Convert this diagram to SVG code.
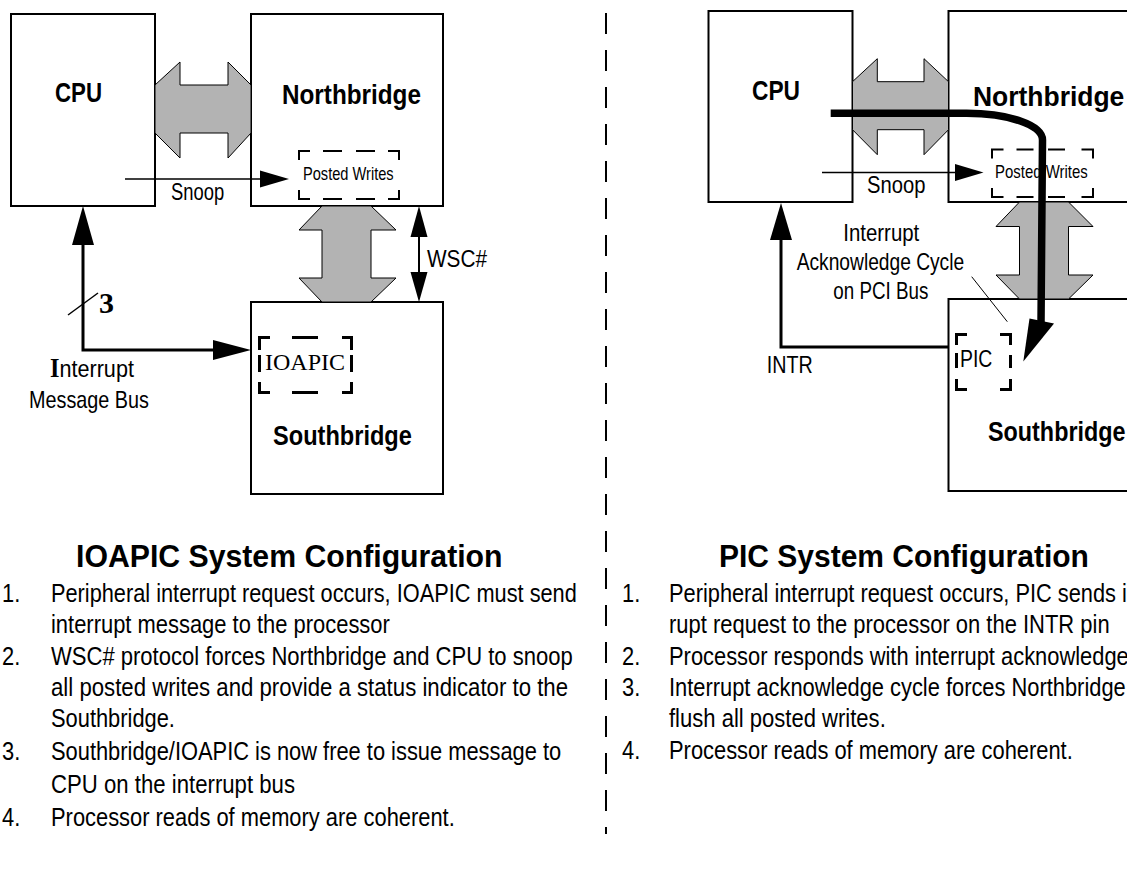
<svg xmlns="http://www.w3.org/2000/svg" width="1127" height="889" viewBox="0 0 1127 889">
<style>
.box{fill:#fff;stroke:#000;stroke-width:2}
.bus{fill:#b3b3b3;stroke:#000;stroke-width:1;stroke-linejoin:miter}
.wire{fill:none;stroke:#000;stroke-width:3}
.thin{fill:none;stroke:#000;stroke-width:1.5}
.hair{fill:none;stroke:#000;stroke-width:1}
.d2{fill:none;stroke:#000;stroke-width:2}
.d3{fill:none;stroke:#000;stroke-width:3}
.head{fill:#000;stroke:none}
.fat{fill:none;stroke:#000;stroke-width:7.5}
text{font-family:'Liberation Sans',Arial,sans-serif;fill:#000}
.t{font-size:24px}
.s{font-size:18px}
.body{font-size:26.5px}
.title{font-size:27px;font-weight:bold}
.head1{font-size:31.5px;font-weight:bold}
.serif{font-family:'Liberation Serif','Times New Roman',serif}
</style>
<rect width="1127" height="889" fill="#fff"/>

<g id="divider">
<line x1="606" y1="13" x2="606" y2="834" stroke="#000" stroke-width="2" stroke-dasharray="21 16"/>
</g>

<!-- LEFT: IOAPIC configuration -->
<g id="left-cpu">
<rect class="box" x="11" y="14" width="144" height="192"/>
<text class="title" transform="translate(55,102) scale(0.825,1)">CPU</text>
</g>
<g id="left-northbridge">
<rect class="box" x="251" y="14" width="192" height="192"/>
<text class="title" transform="translate(282,104) scale(0.9,1)">Northbridge</text>
<path class="d2" d="M299,160 V151 H310 M323,151 H342 M356,151 H375 M388,151 H399 V160 M299,190 V199 H310 M323,199 H342 M356,199 H375 M388,199 H399 V190"/>
<text class="s" transform="translate(303,180) scale(0.8125,1)">Posted Writes</text>
</g>
<g id="left-southbridge">
<rect class="box" x="251" y="302" width="192" height="192"/>
<text class="title" transform="translate(273,445) scale(0.874,1)">Southbridge</text>
<path class="d3" d="M259.5,350 V337.5 H270 M292,337.5 H318 M342,337.5 H351.5 V350 M259.5,355 V372 M351.5,355 V372 M259.5,382 V392.5 H270 M292,392.5 H318 M342,392.5 H351.5 V382"/>
<text class="serif" x="265" y="370" font-size="24">IOAPIC</text>
</g>

<g id="left-connectors">
<polygon class="bus" points="155,85 180,62 180,85 228,85 228,62 251,85 251,133 228,158 228,133 180,133 180,158 155,133"/>
<polygon class="bus" points="322,206 371,206 396,230 371,230 371,278 396,278 371,302 322,302 299,278 322,278 322,230 299,230"/>
<line class="thin" x1="125" y1="179" x2="262" y2="179"/>
<polygon class="head" points="260,170.5 289,179 260,187.5"/>
<line class="d2" x1="419" y1="234" x2="419" y2="274"/>
<polygon class="head" points="419,206 410.5,237 427.5,237"/>
<polygon class="head" points="419,302 410.5,272 427.5,272"/>
<polyline class="wire" points="83,243 83,350 215,350"/>
<polygon class="head" points="83,206 72,245 94,245"/>
<polygon class="head" points="213,340 251,350 213,360"/>
<line class="thin" x1="68" y1="315" x2="98" y2="293"/>
</g>

<g id="left-labels">
<text class="t" font-size="23" transform="translate(171,200) scale(0.767,1)">Snoop</text>
<text class="t" transform="translate(427,267) scale(0.866,1)">WSC#</text>
<text class="serif" x="99" y="313" font-size="30" font-weight="bold">3</text>
<text class="t" font-size="25" transform="translate(50,377) scale(0.9,1)"><tspan class="serif" font-weight="bold" font-size="27">I</tspan>nterrupt</text>
<text class="t" font-size="25" transform="translate(29,408) scale(0.825,1)">Message Bus</text>
</g>

<g id="left-text">
<text class="head1" transform="translate(76,567) scale(0.96,1)">IOAPIC System Configuration</text>
<text class="body" transform="translate(2,602) scale(0.826,1)">1.</text>
<text class="body" transform="translate(51,602) scale(0.821,1)">Peripheral interrupt request occurs, IOAPIC must send</text>
<text class="body" transform="translate(51,633) scale(0.828,1)">interrupt message to the processor</text>
<text class="body" transform="translate(2,665) scale(0.826,1)">2.</text>
<text class="body" transform="translate(51,665) scale(0.832,1)">WSC# protocol forces Northbridge and CPU to snoop</text>
<text class="body" transform="translate(51,696) scale(0.838,1)">all posted writes and provide a status indicator to the</text>
<text class="body" transform="translate(51,727) scale(0.825,1)">Southbridge.</text>
<text class="body" transform="translate(2,760) scale(0.826,1)">3.</text>
<text class="body" transform="translate(51,760) scale(0.825,1)">Southbridge/IOAPIC is now free to issue message to</text>
<text class="body" transform="translate(51,793) scale(0.837,1)">CPU on the interrupt bus</text>
<text class="body" transform="translate(2,826) scale(0.826,1)">4.</text>
<text class="body" transform="translate(51,826) scale(0.826,1)">Processor reads of memory are coherent.</text>
</g>

<!-- RIGHT: PIC configuration -->
<g id="right-cpu">
<rect class="box" x="708.5" y="11" width="144" height="191"/>
<text class="title" transform="translate(752,99.5) scale(0.842,1)">CPU</text>
</g>
<g id="right-northbridge">
<path class="box" d="M1129,11 H948.5 V202 H1129"/>
<text class="title" transform="translate(973,106) scale(0.98,1)">Northbridge</text>
<path class="d2" d="M992,158.5 V149.5 H1003.5 M1016.5,149.5 H1033.5 M1048,149.5 H1065 M1081.5,149.5 H1093 V158.5 M992,188 V197 H1003.5 M1016.5,197 H1033.5 M1048,197 H1065 M1081.5,197 H1093 V188"/>
<text class="s" transform="translate(995,178.3) scale(0.83,1)">Posted Writes</text>
</g>
<g id="right-southbridge">
<path class="box" d="M1129,299 H948.5 V491 H1129"/>
<text class="title" transform="translate(988,440.7) scale(0.865,1)">Southbridge</text>
<path class="d3" d="M956.5,345 V334.5 H967 M1000,334.5 H1010.5 V345 M956.5,353 V368 M1010.5,355 V368 M956.5,379 V389.5 H967 M1000,389.5 H1010.5 V379"/>
<text class="t" font-size="20" transform="translate(960,366.7) scale(0.81,1)">PIC</text>
</g>

<g id="right-connectors">
<polygon class="bus" points="852.5,81.7 877.3,58.7 877.3,81.7 924,81.7 924,58.7 948.5,81.7 948.5,129.7 924,154.7 924,129.7 877.3,129.7 877.3,154.7 852.5,129.7"/>
<polygon class="bus" points="1019.5,202 1068.5,202 1093,226.5 1068.5,226.5 1068.5,275 1093,275 1068.5,299 1019.5,299 996,275 1019.5,275 1019.5,226.5 996,226.5"/>
<line class="thin" x1="822" y1="172.5" x2="957" y2="172.5"/>
<polygon class="head" points="955,164 983.5,172.5 955,181"/>
<polyline class="wire" points="781,238 781,347 948.5,347"/>
<polygon class="head" points="781,203 770,240 792,240"/>
<line class="hair" x1="971.7" y1="276.7" x2="1007.3" y2="321.7"/>
<path class="fat" d="M830.7,113.3 H966.7 C1008.5,113.3 1042.5,125 1042.5,140 L1041,324"/>
<polygon class="head" points="1029.5,318.5 1054,323.5 1023.3,361.5"/>
</g>

<g id="right-labels">
<text class="t" font-size="23" transform="translate(867,193.3) scale(0.842,1)">Snoop</text>
<text class="t" transform="translate(843.3,240.5) scale(0.85,1)">Interrupt</text>
<text class="t" transform="translate(796.7,270) scale(0.8,1)">Acknowledge Cycle</text>
<text class="t" transform="translate(833.3,299) scale(0.783,1)">on PCI Bus</text>
<text class="t" transform="translate(766.7,373.3) scale(0.821,1)">INTR</text>
</g>

<g id="right-text">
<text class="head1" transform="translate(719,567) scale(0.952,1)">PIC System Configuration</text>
<text class="body" transform="translate(622,602) scale(0.826,1)">1.</text>
<text class="body" transform="translate(669,602) scale(0.823,1)">Peripheral interrupt request occurs, PIC sends i</text>
<text class="body" transform="translate(669,633) scale(0.829,1)">rupt request to the processor on the INTR pin</text>
<text class="body" transform="translate(622,665) scale(0.826,1)">2.</text>
<text class="body" transform="translate(669,665) scale(0.826,1)">Processor responds with interrupt acknowledge</text>
<text class="body" transform="translate(622,696) scale(0.826,1)">3.</text>
<text class="body" transform="translate(669,696) scale(0.825,1)">Interrupt acknowledge cycle forces Northbridge</text>
<text class="body" transform="translate(669,727) scale(0.832,1)">flush all posted writes.</text>
<text class="body" transform="translate(622,759) scale(0.826,1)">4.</text>
<text class="body" transform="translate(669,759) scale(0.826,1)">Processor reads of memory are coherent.</text>
</g>
</svg>
